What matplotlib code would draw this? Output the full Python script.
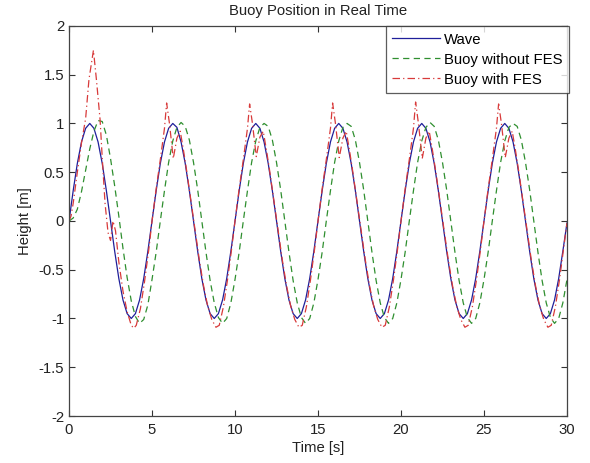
import matplotlib
matplotlib.use("Agg")
import matplotlib.pyplot as plt
from matplotlib.ticker import FuncFormatter

plt.rcParams['font.family'] = ['Liberation Sans', 'DejaVu Sans']
plt.rcParams['axes.unicode_minus'] = False

# ---------------- data ----------------
wave_t = [i * 0.25 for i in range(121)]
wave = [
    0.00, 0.31, 0.59, 0.81, 0.95, 1.00, 0.95, 0.81, 0.59, 0.31,
    0.00, -0.31, -0.59, -0.81, -0.95, -1.00, -0.95, -0.81, -0.59, -0.31,
    0.00, 0.31, 0.59, 0.81, 0.95, 1.00, 0.96, 0.81, 0.59, 0.31,
    0.00, -0.31, -0.59, -0.81, -0.95, -1.00, -0.95, -0.81, -0.59, -0.31,
    0.00, 0.31, 0.59, 0.81, 0.95, 1.00, 0.95, 0.81, 0.59, 0.31,
    0.00, -0.31, -0.59, -0.81, -0.95, -1.00, -0.95, -0.81, -0.59, -0.31,
    0.00, 0.31, 0.59, 0.81, 0.95, 1.00, 0.95, 0.81, 0.59, 0.31,
    0.00, -0.31, -0.59, -0.81, -0.95, -1.00, -0.95, -0.81, -0.59, -0.31,
    0.00, 0.31, 0.59, 0.81, 0.95, 1.00, 0.95, 0.81, 0.59, 0.31,
    0.00, -0.31, -0.59, -0.81, -0.95, -1.00, -0.95, -0.81, -0.59, -0.31,
    0.00, 0.31, 0.59, 0.81, 0.95, 1.00, 0.95, 0.81, 0.59, 0.31,
    0.00, -0.31, -0.59, -0.81, -0.95, -1.00, -0.95, -0.81, -0.59, -0.31,
    -0.02,
]

green_t = [i * 0.25 for i in range(121)]
buoy_no_fes = [
    0.00, 0.03, 0.12, 0.30, 0.52, 0.74, 0.92, 1.03, 1.02, 0.88,
    0.64, 0.36, 0.05, -0.28, -0.58, -0.82, -0.98, -1.05, -1.01, -0.86,
    -0.60, -0.32, 0.00, 0.31, 0.60, 0.82, 0.96, 1.01, 0.97, 0.83,
    0.60, 0.32, 0.00, -0.32, -0.61, -0.84, -0.99, -1.05, -1.00, -0.84,
    -0.60, -0.32, 0.00, 0.31, 0.60, 0.82, 0.96, 1.00, 0.97, 0.83,
    0.60, 0.32, 0.00, -0.32, -0.61, -0.84, -0.99, -1.05, -1.00, -0.84,
    -0.60, -0.32, 0.00, 0.31, 0.60, 0.82, 0.96, 1.00, 0.97, 0.83,
    0.60, 0.32, 0.00, -0.32, -0.61, -0.84, -0.99, -1.05, -1.00, -0.84,
    -0.60, -0.32, 0.00, 0.31, 0.60, 0.82, 0.96, 1.01, 0.97, 0.83,
    0.60, 0.32, 0.00, -0.32, -0.61, -0.84, -0.99, -1.05, -1.00, -0.84,
    -0.60, -0.32, 0.00, 0.31, 0.60, 0.82, 0.96, 1.00, 0.97, 0.83,
    0.60, 0.32, 0.00, -0.32, -0.61, -0.84, -0.99, -1.05, -1.00, -0.84,
    -0.60,
]

red_t = [
    0.0, 0.12, 0.25, 0.5, 0.75, 1.0, 1.2, 1.47, 1.65, 1.87, 2.0, 2.17, 2.35, 2.5, 2.65, 2.8,
    3.0, 3.25, 3.5, 3.75, 3.9, 4.05, 4.3, 4.55, 4.8,
    5.0, 5.25, 5.5, 5.75, 5.88, 6.05, 6.28, 6.5, 6.7, 6.9, 7.1, 7.35, 7.6, 7.85, 8.1, 8.35,
    8.6, 8.85, 9.05, 9.3, 9.55, 9.8,
    10.0, 10.25, 10.5, 10.75, 10.88, 11.05, 11.28, 11.5, 11.7, 11.9, 12.1, 12.35, 12.6, 12.85,
    13.1, 13.35, 13.6, 13.85, 14.05, 14.3, 14.55, 14.8,
    15.0, 15.25, 15.5, 15.75, 15.88, 16.05, 16.28, 16.5, 16.7, 16.9, 17.1, 17.35, 17.6, 17.85,
    18.1, 18.35, 18.6, 18.85, 19.05, 19.3, 19.55, 19.8,
    20.0, 20.25, 20.5, 20.75, 20.88, 21.05, 21.28, 21.5, 21.7, 21.9, 22.1, 22.35, 22.6, 22.85,
    23.1, 23.35, 23.6, 23.85, 24.05, 24.3, 24.55, 24.8,
    25.0, 25.25, 25.5, 25.75, 25.88, 26.05, 26.28, 26.5, 26.7, 26.9, 27.1, 27.35, 27.6, 27.85,
    28.1, 28.35, 28.6, 28.85, 29.05, 29.3, 29.55, 29.8, 30.0,
]
buoy_fes = [
    0.00, 0.05, 0.18, 0.50, 0.80, 1.05, 1.45, 1.75, 1.45, 1.04, 0.65, 0.18, -0.12, -0.20, 0.00, -0.10,
    -0.42, -0.72, -0.93, -1.07, -1.10, -1.07, -0.90, -0.62, -0.30,
    0.00, 0.33, 0.63, 0.95, 1.21, 1.00, 0.64, 0.85, 0.92, 0.72, 0.50, 0.20, -0.10, -0.40, -0.66, -0.87,
    -1.01, -1.09, -1.07, -0.88, -0.60, -0.28,
    0.00, 0.33, 0.63, 0.95, 1.20, 1.00, 0.66, 0.86, 0.92, 0.72, 0.50, 0.20, -0.10, -0.40,
    -0.66, -0.87, -1.01, -1.09, -1.07, -0.88, -0.60, -0.28,
    0.00, 0.33, 0.63, 0.95, 1.21, 1.00, 0.65, 0.85, 0.92, 0.72, 0.50, 0.20, -0.10, -0.40,
    -0.66, -0.87, -1.01, -1.09, -1.07, -0.88, -0.60, -0.28,
    0.00, 0.33, 0.63, 0.95, 1.22, 1.00, 0.64, 0.85, 0.92, 0.72, 0.50, 0.20, -0.10, -0.40,
    -0.66, -0.87, -1.01, -1.09, -1.07, -0.88, -0.60, -0.28,
    0.00, 0.33, 0.63, 0.95, 1.20, 1.00, 0.65, 0.85, 0.92, 0.72, 0.50, 0.20, -0.10, -0.40,
    -0.66, -0.87, -1.01, -1.09, -1.07, -0.88, -0.60, -0.28, -0.02,
]

x_ticks = [0, 5, 10, 15, 20, 25, 30]
y_ticks = [-2, -1.5, -1, -0.5, 0, 0.5, 1, 1.5, 2]
labels = ["Wave", "Buoy without FES", "Buoy with FES"]

# ---------------- plot ----------------
FS = 10.7
fig = plt.figure(figsize=(5.9, 4.63), dpi=100)
ax = fig.add_axes([0.117, 0.1015, 0.844, 0.8425])

ax.plot(wave_t, wave, color="#1f1f9a", lw=0.9, label=labels[0])
ax.plot(green_t, buoy_no_fes, color="#2f8f2f", lw=0.9, ls=(0, (5, 3.5)), label=labels[1])
ax.plot(red_t, buoy_fes, color="#d83a3a", lw=0.9, ls=(0, (6, 2.5, 1, 2.5)), label=labels[2])

ax.set_xlim(0, 30)
ax.set_ylim(-2, 2)
ax.set_xticks(x_ticks)
ax.set_yticks(y_ticks)
ax.yaxis.set_major_formatter(FuncFormatter(lambda v, _: f"{v:g}"))
ax.tick_params(direction="in", top=True, right=True, length=4, width=0.8,
               labelsize=FS, colors="#333333", labelcolor="#222222")
ax.tick_params(axis="x", pad=5)
for s in ax.spines.values():
    s.set_color("#444444")
    s.set_linewidth(0.9)

ax.set_title("Buoy Position in Real Time", fontsize=FS, color="#222222", pad=8)
ax.set_xlabel("Time [s]", fontsize=FS, color="#222222", labelpad=3)
ax.set_ylabel("Height [m]", fontsize=FS, color="#222222", labelpad=5)

leg = ax.legend(loc="upper right", bbox_to_anchor=(1.005, 1.0), fontsize=FS,
                frameon=True, fancybox=False, handlelength=3.2, handletextpad=0.3,
                borderpad=0.45, labelspacing=0.4, borderaxespad=0.0)
leg.get_frame().set_edgecolor("#333333")
leg.get_frame().set_linewidth(0.9)

fig.savefig("out.png", dpi=100)
